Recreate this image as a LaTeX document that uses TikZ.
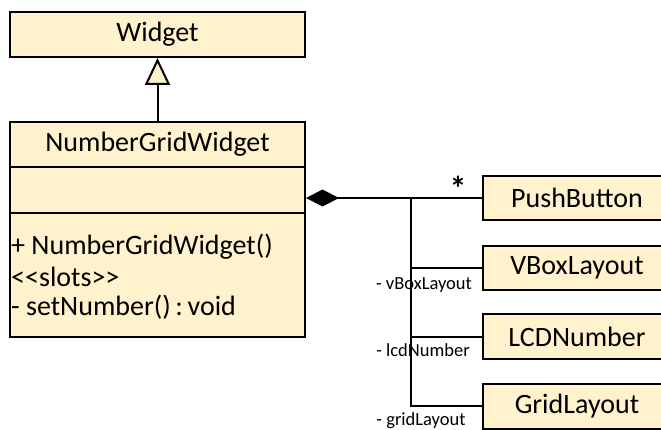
\documentclass[tikz,border=0pt]{standalone}
\usepackage{fontspec}
\setmainfont{Carlito}
\usetikzlibrary{arrows.meta}
\definecolor{boxfill}{HTML}{FFF2CC}
\tikzset{
  classbox/.style={draw=black, fill=boxfill, line width=2pt, rectangle,
    inner sep=0pt, font=\fontsize{28}{33}\selectfont},
  wire/.style={draw=black, line width=2pt},
  optext/.style={font=\fontsize{28}{33}\selectfont, anchor=west, inner sep=0pt},
  rolelabel/.style={font=\fontsize{18.5}{22}\selectfont, inner sep=0pt},
}
\begin{document}
\begin{tikzpicture}[x=1pt,y=-1pt]
\useasboundingbox (0,0) rectangle (661,430);

% Base class
\node[classbox, minimum width=295pt, minimum height=45pt] (widget) at (157.5,34.5) {Widget};

% NumberGridWidget with its three compartments
\node[classbox, minimum width=295pt, minimum height=45pt] (ngwName) at (157.5,144.5) {NumberGridWidget};
\node[classbox, minimum width=295pt, minimum height=46pt] (ngwAttr) at (157.5,190) {};
\node[classbox, minimum width=295pt, minimum height=124pt] (ngwOps) at (157.5,275) {};
\node[optext] (op1) at (11,247) {+ NumberGridWidget()};
\node[optext] (op2) at (11,277) {<{}<slots>{}>};
\node[optext] (op3) at (11,307) {- setNumber()\,:\,void};

% Part classes
\node[classbox, minimum width=188pt, minimum height=44pt, anchor=west] (push) at (482,198) {PushButton};
\node[classbox, minimum width=188pt, minimum height=44pt, anchor=west] (vbox) at (482,268) {VBoxLayout};
\node[classbox, minimum width=188pt, minimum height=45pt, anchor=west] (lcd) at (482,336.5) {LCDNumber};
\node[classbox, minimum width=188pt, minimum height=45pt, anchor=west] (grid) at (482,406) {GridLayout};

% Generalisation
\draw[wire, -{Triangle[length=27pt, width=25pt, fill=boxfill]}] (ngwName.north) -- (widget.south);

% Composition
\coordinate (junction) at (411,198);
\draw[wire, -{Diamond[length=33pt, width=17pt, fill=black]}] (push.west) -- (ngwAttr.east |- push.west);
\draw[wire] (junction) |- (vbox.west);
\draw[wire] (junction) |- (lcd.west);
\draw[wire] (junction) |- (grid.west);

% Multiplicity and role names
\node[font=\fontsize{34}{40}\selectfont\bfseries, inner sep=0pt] (mult) at (458,188) {*};
\node[rolelabel] (rvbox) at (424,285) {- vBoxLayout};
\node[rolelabel] (rlcd) at (423,350) {- lcdNumber};
\node[rolelabel] (rgrid) at (421,421) {- gridLayout};
\end{tikzpicture}
\end{document}
